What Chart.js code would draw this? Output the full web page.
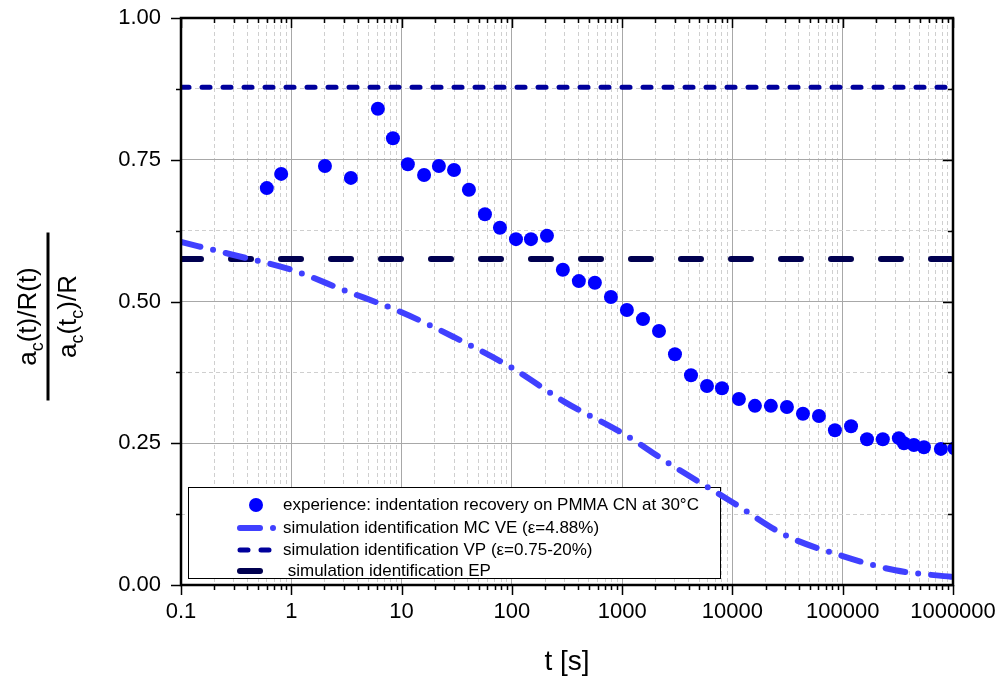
<!DOCTYPE html>
<html>
<head>
<meta charset="utf-8">
<script src="https://cdn.jsdelivr.net/npm/chart.js@4.4.0/dist/chart.umd.min.js"></script>
<style>
  html, body { margin: 0; padding: 0; background: #fff; }
  #wrap { width: 1001px; height: 679px; }
</style>
</head>
<body>
<div id="wrap"><canvas id="chart" width="1001" height="679"></canvas></div>
<script>
// --- data ---
const expTime = [0.60, 0.81, 2.02, 3.47, 6.1, 8.35, 11.4, 16, 21.8, 29.9, 40.8, 57, 78, 109, 149, 208,
  290, 405, 566, 791, 1104, 1545, 2158, 3013, 4210, 5880, 8040, 11450, 16000, 22300, 31200, 43600,
  60900, 85000, 119000, 166000, 231000, 323000, 359000, 442000, 545000, 776000, 1030000];
const expRatio = [0.700, 0.725, 0.739, 0.718, 0.840, 0.788, 0.742, 0.723, 0.739, 0.732, 0.697, 0.654, 0.630, 0.610, 0.610, 0.616,
  0.556, 0.536, 0.533, 0.508, 0.485, 0.469, 0.448, 0.407, 0.370, 0.351, 0.347, 0.328, 0.316, 0.316, 0.314, 0.302,
  0.298, 0.273, 0.280, 0.257, 0.257, 0.259, 0.250, 0.247, 0.243, 0.240, 0.241];

const mcveTime = [0.1, 0.3, 1, 3, 10, 30, 100, 300, 1000, 3000, 10000, 30000, 100000, 300000, 1000000];
const mcveRatio = [0.605, 0.582, 0.556, 0.520, 0.481, 0.437, 0.383, 0.323, 0.268, 0.208, 0.146, 0.088, 0.051, 0.026, 0.014];

const vpTime = [0.1, 1000000];
const vpRatio = [0.878, 0.878];
const epTime = [0.1, 1000000];
const epRatio = [0.575, 0.575];

const seriesLabels = [
  'experience: indentation recovery on PMMA CN at 30°C',
  'simulation identification MC VE (ε=4.88%)',
  'simulation identification VP (ε=0.75-20%)',
  ' simulation identification EP'
];

const xMajorTicks = [0.1, 1, 10, 100, 1000, 10000, 100000, 1000000];
const xTickLabels = ['0.1', '1', '10', '100', '1000', '10000', '100000', '1000000'];
const yTicks = [0, 0.125, 0.25, 0.375, 0.5, 0.625, 0.75, 0.875, 1];
const yTickLabels = ['0.00', '', '0.25', '', '0.50', '', '0.75', '', '1.00'];

const FONT = 'Arial, "Liberation Sans", sans-serif';

// minor ticks 2..9 in every decade
const xAllTicks = [];
xMajorTicks.forEach((d, i) => {
  if (i === xMajorTicks.length - 1) { xAllTicks.push(d); return; }
  for (let k = 1; k <= 9; k++) xAllTicks.push(Number((d * k).toPrecision(6)));
});
const isDecade = v => xMajorTicks.some(m => Math.abs(m - v) / m < 1e-6);
const isYMajor = v => Math.abs(v * 4 - Math.round(v * 4)) < 1e-9;

const toPts = (xs, ys) => xs.map((x, i) => ({ x: x, y: ys[i] }));

// frame + tick marks
const framePlugin = {
  id: 'frame',
  afterDraw(chart) {
    const { ctx, chartArea: a, scales } = chart;
    ctx.save();
    ctx.strokeStyle = '#000';
    ctx.lineWidth = 1.5;
    ctx.beginPath();
    xAllTicks.forEach(v => {
      const px = Math.round(scales.x.getPixelForValue(v)) + 0.5;
      const len = isDecade(v) ? 10 : 5;
      ctx.moveTo(px, a.bottom); ctx.lineTo(px, a.bottom + len);
      ctx.moveTo(px, a.top); ctx.lineTo(px, a.top + len);
    });
    yTicks.forEach(v => {
      const py = Math.round(scales.y.getPixelForValue(v)) + 0.5;
      const len = isYMajor(v) ? 10 : 5;
      ctx.moveTo(a.left, py); ctx.lineTo(a.left - len, py);
      ctx.moveTo(a.right, py); ctx.lineTo(a.right - len, py);
    });
    ctx.stroke();
    ctx.lineWidth = 2.5;
    ctx.strokeRect(a.left, a.top, a.right - a.left, a.bottom - a.top);
    ctx.restore();

    // y axis title as a fraction, rotated
    const cy = (a.top + a.bottom) / 2 + 15;
    ctx.save();
    ctx.translate(48, cy);
    ctx.rotate(-Math.PI / 2);
    ctx.fillStyle = '#000';
    ctx.strokeStyle = '#000';
    ctx.lineWidth = 3;
    ctx.beginPath();
    ctx.moveTo(-84, 0); ctx.lineTo(84, 0);
    ctx.stroke();
    drawRich(ctx, [['a'], ['c', 1], ['(t)/R(t)']], 0, -12, 26);
    drawRich(ctx, [['a'], ['c', 1], ['(t'], ['c', 1], [')/R']], 0, 28, 26);
    ctx.restore();
  }
};

function drawRich(ctx, parts, cx, baseY, size) {
  const subSize = Math.round(size * 0.7);
  let total = 0;
  parts.forEach(p => {
    ctx.font = (p[1] ? subSize : size) + 'px ' + FONT;
    total += ctx.measureText(p[0]).width;
  });
  let x = cx - total / 2;
  ctx.textAlign = 'left';
  ctx.textBaseline = 'alphabetic';
  parts.forEach(p => {
    ctx.font = (p[1] ? subSize : size) + 'px ' + FONT;
    ctx.fillText(p[0], x, baseY + (p[1] ? size * 0.25 : 0));
    x += ctx.measureText(p[0]).width;
  });
}

// legend box inside the plot, drawn under the data
const legendPlugin = {
  id: 'boxLegend',
  beforeDatasetsDraw(chart) {
    const { ctx, chartArea: a } = chart;
    const bx = a.left + 7, by = a.bottom - 98, bw = 532, bh = 91;
    ctx.save();
    ctx.fillStyle = '#fff';
    ctx.fillRect(bx, by, bw, bh);
    ctx.strokeStyle = '#000';
    ctx.lineWidth = 1;
    ctx.strokeRect(bx + 0.5, by + 0.5, bw, bh);
    const rows = [by + 18, by + 41, by + 63, by + 84];
    chart.data.datasets.forEach((ds, i) => {
      const y = rows[i];
      if (!ds.showLine && ds.showLine !== undefined) {
        ctx.fillStyle = ds.pointBackgroundColor;
        ctx.beginPath();
        ctx.arc(bx + 68, y, 7, 0, Math.PI * 2);
        ctx.fill();
      } else {
        ctx.strokeStyle = ds.borderColor;
        ctx.lineWidth = ds.borderWidth;
        ctx.lineCap = 'round';
        ctx.setLineDash(ds.borderDash || []);
        ctx.beginPath();
        ctx.moveTo(bx + 52, y);
        ctx.lineTo(bx + 88, y);
        ctx.stroke();
        ctx.setLineDash([]);
      }
      ctx.fillStyle = '#000';
      ctx.font = '17px ' + FONT;
      ctx.textBaseline = 'middle';
      ctx.textAlign = 'left';
      ctx.fillText(ds.label, bx + 95, y);
    });
    ctx.restore();
  }
};

const ctx = document.getElementById('chart').getContext('2d');
new Chart(ctx, {
  type: 'line',
  data: {
    datasets: [
      {
        label: seriesLabels[0],
        data: toPts(expTime, expRatio),
        showLine: false,
        pointRadius: 7,
        pointBackgroundColor: '#0000FF',
        pointBorderWidth: 0,
        clip: 0,
        order: 0
      },
      {
        label: seriesLabels[1],
        data: toPts(mcveTime, mcveRatio),
        borderColor: '#4040FF',
        borderWidth: 6,
        borderDash: [20, 13, 0, 13],
        borderCapStyle: 'round',
        cubicInterpolationMode: 'monotone',
        pointRadius: 0,
        fill: false,
        clip: 0,
        order: 1
      },
      {
        label: seriesLabels[2],
        data: toPts(vpTime, vpRatio),
        borderColor: '#00009C',
        borderWidth: 5,
        borderDash: [8, 13],
        borderCapStyle: 'round',
        pointRadius: 0,
        fill: false,
        clip: 0,
        order: 2
      },
      {
        label: seriesLabels[3],
        data: toPts(epTime, epRatio),
        borderColor: '#000050',
        borderWidth: 6,
        borderDash: [20, 30],
        borderCapStyle: 'round',
        pointRadius: 0,
        fill: false,
        clip: 0,
        order: 3
      }
    ]
  },
  options: {
    responsive: false,
    animation: false,
    devicePixelRatio: 1,
    layout: { padding: { top: 18, right: 48, left: 0, bottom: 0 } },
    plugins: { legend: { display: false }, tooltip: { enabled: false } },
    scales: {
      x: {
        type: 'logarithmic',
        min: 0.1,
        max: 1000000,
        afterBuildTicks: s => { s.ticks = xAllTicks.map(v => ({ value: v })); },
        afterFit: s => { s.height = 94; s.paddingLeft = 0; s.paddingRight = 0; },
        ticks: {
          autoSkip: false,
          maxRotation: 0,
          padding: 14,
          color: '#000',
          font: { size: 22, family: FONT },
          callback: v => {
            const i = xMajorTicks.findIndex(m => Math.abs(m - v) / m < 1e-6);
            return i >= 0 ? xTickLabels[i] : '';
          }
        },
        grid: {
          drawTicks: false,
          lineWidth: 1,
          color: c => (c.tick && isDecade(c.tick.value)) ? '#a8a8a8' : '#cfcfcf'
        },
        border: {
          display: false,
          dash: c => (c.tick && isDecade(c.tick.value)) ? [] : [4, 3]
        },
        title: {
          display: true,
          text: 't [s]',
          color: '#000',
          font: { size: 28, family: FONT },
          padding: { top: 0, bottom: 0 }
        }
      },
      y: {
        min: 0,
        max: 1,
        afterBuildTicks: s => { s.ticks = yTicks.map(v => ({ value: v })); },
        afterFit: s => { s.width = 181; s.paddingTop = 0; s.paddingBottom = 0; },
        ticks: {
          padding: 20,
          color: '#000',
          font: { size: 22, family: FONT },
          callback: (v, i) => yTickLabels[i]
        },
        grid: {
          drawTicks: false,
          lineWidth: 1,
          color: c => (c.tick && isYMajor(c.tick.value)) ? '#a8a8a8' : '#cfcfcf'
        },
        border: {
          display: false,
          dash: c => (c.tick && isYMajor(c.tick.value)) ? [] : [4, 3]
        }
      }
    }
  },
  plugins: [legendPlugin, framePlugin]
});
</script>
</body>
</html>
